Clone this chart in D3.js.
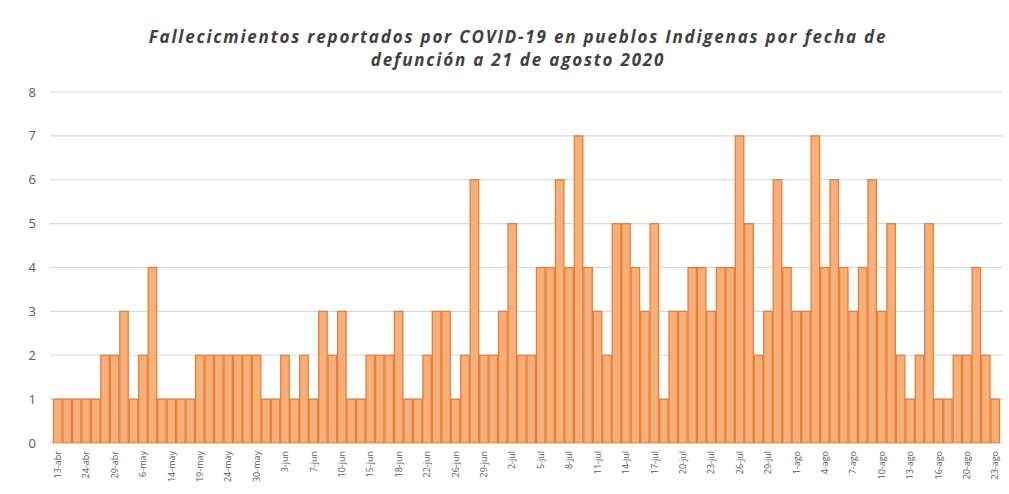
<!DOCTYPE html>
<html>
<head>
<meta charset="utf-8">
<script src="https://cdn.jsdelivr.net/npm/d3@7"></script>
<style>
body { margin: 0; background: #fff; }
text { font-family: "Open Sans", "Liberation Sans", sans-serif; }
</style>
</head>
<body>
<script>
var w = 1009;
var h = 494;

// deaths per reported day (only days with deaths shown, as in the source)
var deaths = [1,1,1,1,1,2,2,3,1,2,4,1,1,1,1,2,2,2,2,2,2,2,1,1,2,
              1,2,1,3,2,3,1,1,2,2,2,3,1,1,2,3,3,1,2,6,2,2,3,5,2,
              2,4,4,6,4,7,4,3,2,5,5,4,3,5,1,3,3,4,4,3,4,4,7,5,2,
              3,6,4,3,3,7,4,6,4,3,4,6,3,5,2,1,2,5,1,1,2,2,4,2,1];

// one label every third bar
var tickLabels = ["13-abr","24-abr","29-abr","6-may","14-may","19-may","24-may","30-may",
                  "3-jun","7-jun","10-jun","15-jun","18-jun","22-jun","26-jun","29-jun",
                  "2-jul","5-jul","8-jul","11-jul","14-jul","17-jul","20-jul","23-jul",
                  "26-jul","29-jul","1-ago","4-ago","7-ago","10-ago","13-ago","16-ago",
                  "20-ago","23-ago"];
var tickStep = 3;

var yTicks = [0,1,2,3,4,5,6,7,8];

var titleLines = ["Fallecicmientos reportados por COVID-19 en pueblos Indigenas por fecha de",
                  "defunción a 21 de agosto 2020"];

var plotLeft = 53, plotRight = 1000, plotTop = 92, plotBottom = 443;

var svg = d3.select("body")
    .append("svg")
    .attr("width", w)
    .attr("height", h);

var x = d3.scaleBand()
    .domain(deaths.map(function(d, i){ return i; }))
    .range([plotLeft, plotRight])
    .padding(0);

var y = d3.scaleLinear()
    .domain([0, 8])
    .range([plotBottom, plotTop]);

// gridlines
svg.append("g")
    .selectAll("line")
    .data(yTicks)
    .enter()
    .append("line")
    .attr("x1", 50)
    .attr("x2", 1003)
    .attr("y1", function(d){ return y(d); })
    .attr("y2", function(d){ return y(d); })
    .attr("stroke", "#d9d9d9")
    .attr("stroke-width", 1.2);

// y labels
svg.append("g")
    .selectAll("text")
    .data(yTicks)
    .enter()
    .append("text")
    .attr("x", 36)
    .attr("y", function(d){ return y(d) + 4.5; })
    .attr("text-anchor", "end")
    .attr("fill", "#595959")
    .attr("font-size", 13)
    .text(function(d){ return d; });

// bars
svg.append("g")
    .selectAll("rect")
    .data(deaths)
    .enter()
    .append("rect")
    .attr("x", function(d, i){ return x(i) + 0.5; })
    .attr("y", function(d){ return y(d); })
    .attr("width", x.bandwidth() - 1)
    .attr("height", function(d){ return plotBottom - y(d); })
    .attr("fill", "#f5b07c")
    .attr("stroke", "#ed7d31")
    .attr("stroke-width", 1.3);

// x axis
var xAxis = d3.axisBottom(x)
    .tickValues(tickLabels.map(function(d, k){ return k * tickStep; }))
    .tickFormat(function(i){ return tickLabels[i / tickStep]; })
    .tickSize(0);

var gx = svg.append("g")
    .attr("transform", "translate(0," + plotBottom + ")")
    .call(xAxis);
gx.select(".domain").attr("stroke", "#d9d9d9");
gx.selectAll("text")
    .attr("transform", "rotate(-90)")
    .attr("text-anchor", "end")
    .attr("x", -8)
    .attr("y", 0)
    .attr("dy", "0.35em")
    .attr("fill", "#595959")
    .attr("font-size", 9);

// title
svg.append("g")
    .selectAll("text")
    .data(titleLines)
    .enter()
    .append("text")
    .attr("x", 518)
    .attr("y", function(d, i){ return 43 + i * 23; })
    .attr("text-anchor", "middle")
    .attr("font-style", "italic")
    .attr("font-weight", "bold")
    .attr("font-size", 17)
    .attr("letter-spacing", 1.8)
    .attr("fill", "#404040")
    .text(function(d){ return d; });
</script>
</body>
</html>
